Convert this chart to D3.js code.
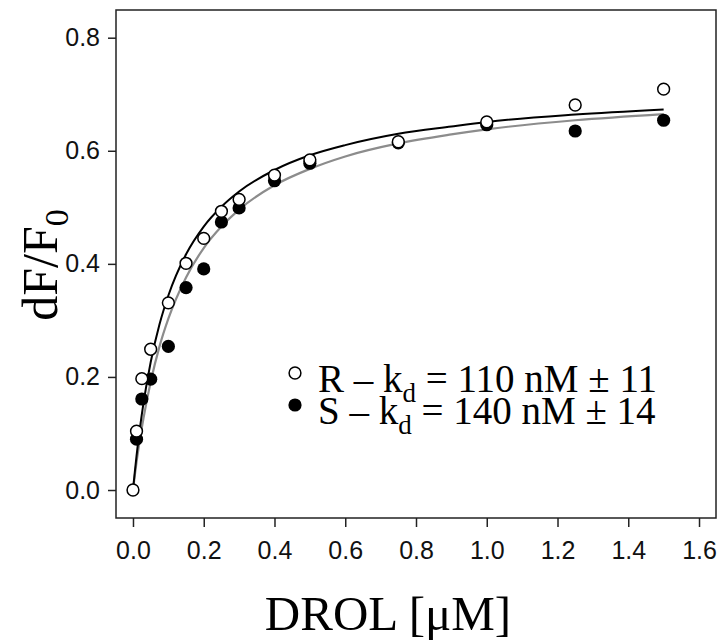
<!DOCTYPE html>
<meta charset="utf-8">
<html>
<script src="https://d3js.org/d3.v7.min.js"></script>
<style>
  body { margin: 0; background: #fff; }
  .tick text { font-family: "Liberation Sans", Arial, sans-serif; font-size: 25px; fill: #111; }
</style>
<body>
<div id="chart"></div>
<script>

// measured points (DROL concentration in uM)
var rConc = [0, 0.01, 0.025, 0.05, 0.1, 0.15, 0.2, 0.25, 0.3, 0.4, 0.5, 0.75, 1.0, 1.25, 1.5];
var rVals = [0.000, 0.104, 0.197, 0.249, 0.331, 0.401, 0.445, 0.493, 0.514, 0.557, 0.584, 0.616, 0.651, 0.681, 0.709];
var sConc = [0.01, 0.025, 0.05, 0.1, 0.15, 0.2, 0.25, 0.3, 0.4, 0.5, 0.75, 1.0, 1.25, 1.5];
var sVals = [0.090, 0.161, 0.196, 0.254, 0.358, 0.391, 0.474, 0.499, 0.547, 0.578, 0.614, 0.646, 0.635, 0.654];

// fitted curves
var fitConc = [0, 0.005, 0.01, 0.02, 0.03, 0.05, 0.075, 0.1, 0.15, 0.2, 0.25, 0.3, 0.4, 0.5, 0.6, 0.75, 0.9, 1.0, 1.25, 1.5];
var rFit = [0, 0.031, 0.060, 0.111, 0.155, 0.226, 0.293, 0.344, 0.417, 0.466, 0.501, 0.528, 0.566, 0.592, 0.610, 0.630, 0.643, 0.651, 0.664, 0.673];
var sFit = [0, 0.025, 0.049, 0.091, 0.128, 0.191, 0.254, 0.303, 0.376, 0.428, 0.466, 0.496, 0.539, 0.568, 0.590, 0.613, 0.629, 0.638, 0.654, 0.665];

var xTicks = [0, 0.2, 0.4, 0.6, 0.8, 1.0, 1.2, 1.4, 1.6];
var yTicks = [0, 0.2, 0.4, 0.6, 0.8];
var legendLabels = [["R", "110", "11"], ["S", "140", "14"]];

var width = 722, height = 643;
var margin = {left: 116, top: 10, right: 6, bottom: 125};
var w = width - margin.left - margin.right,
    h = height - margin.top - margin.bottom;

var svg = d3.select("#chart").append("svg")
    .attr("width", width)
    .attr("height", height);

var g = svg.append("g")
    .attr("transform", "translate(" + margin.left + "," + margin.top + ")");

var x = d3.scaleLinear().domain([-0.048, 1.648]).range([0, w]);
var y = d3.scaleLinear().domain([-0.0495, 0.849]).range([h, 0]);

// axes
var xAxis = g.append("g")
    .attr("transform", "translate(0," + h + ")")
    .call(d3.axisBottom(x).tickValues(xTicks).tickFormat(d3.format(".1f")).tickSize(9).tickPadding(14));
var yAxis = g.append("g")
    .call(d3.axisLeft(y).tickValues(yTicks).tickFormat(d3.format(".1f")).tickSize(8).tickPadding(8));

[xAxis, yAxis].forEach(function(a) {
  a.attr("font-size", 25).attr("font-family", "Liberation Sans");
  a.select(".domain").remove();
  a.selectAll("line").attr("stroke", "#222").attr("stroke-width", 1.5);
});

// frame
g.append("rect")
    .attr("width", w)
    .attr("height", h)
    .attr("fill", "none")
    .attr("stroke", "#222")
    .attr("stroke-width", 1.5);

// fit lines
var line = d3.line()
    .x(function(d) { return x(d[0]); })
    .y(function(d) { return y(d[1]); })
    .curve(d3.curveMonotoneX);

g.append("path")
    .datum(d3.zip(fitConc, sFit))
    .attr("d", line)
    .attr("fill", "none")
    .attr("stroke", "#8c8c8c")
    .attr("stroke-width", 2.2);

g.append("path")
    .datum(d3.zip(fitConc, rFit))
    .attr("d", line)
    .attr("fill", "none")
    .attr("stroke", "#000")
    .attr("stroke-width", 2);

// points: filled (S) under open (R)
g.selectAll("circle.s")
    .data(d3.zip(sConc, sVals))
    .enter().append("circle")
    .attr("class", "s")
    .attr("cx", function(d) { return x(d[0]); })
    .attr("cy", function(d) { return y(d[1]); })
    .attr("r", 6.6)
    .attr("fill", "#000");

g.selectAll("circle.r")
    .data(d3.zip(rConc, rVals))
    .enter().append("circle")
    .attr("class", "r")
    .attr("cx", function(d) { return x(d[0]); })
    .attr("cy", function(d) { return y(d[1]); })
    .attr("r", 5.9)
    .attr("fill", "#fff")
    .attr("stroke", "#000")
    .attr("stroke-width", 1.5);

// legend
var legend = svg.selectAll(".legend")
    .data(legendLabels)
    .enter().append("g")
    .attr("class", "legend")
    .attr("transform", function(d, i) { return "translate(295," + (373 + i * 32) + ")"; });

legend.append("circle")
    .attr("r", function(d, i) { return i == 0 ? 5.9 : 6.6; })
    .attr("fill", function(d, i) { return i == 0 ? "#fff" : "#000"; })
    .attr("stroke", function(d, i) { return i == 0 ? "#000" : "none"; })
    .attr("stroke-width", 1.5);

var lt = legend.append("text")
    .attr("x", 23)
    .attr("y", 19)
    .style("font-family", "'Liberation Serif', 'Times New Roman', serif")
    .style("font-size", "39px")
    .attr("fill", "#000");
lt.append("tspan").text(function(d) { return d[0] + " \u2013 k"; });
lt.append("tspan").attr("dy", 10).style("font-size", "27px").text("d");
lt.append("tspan").attr("dy", -10).text(function(d) { return " = " + d[1] + " nM \u00b1 " + d[2]; });

// axis titles
svg.append("text")
    .attr("x", 388)
    .attr("y", 630)
    .attr("text-anchor", "middle")
    .style("font-family", "'Liberation Serif', 'Times New Roman', serif")
    .style("font-size", "49px")
    .text("DROL [\u03bcM]");

var yt = svg.append("text")
    .attr("transform", "translate(57,265) rotate(-90)")
    .attr("text-anchor", "middle")
    .style("font-family", "'Liberation Serif', 'Times New Roman', serif")
    .style("font-size", "50px");
yt.append("tspan").text("dF/F");
yt.append("tspan").attr("dy", 11).style("font-size", "34px").text("0");

</script>
</body>
</html>
